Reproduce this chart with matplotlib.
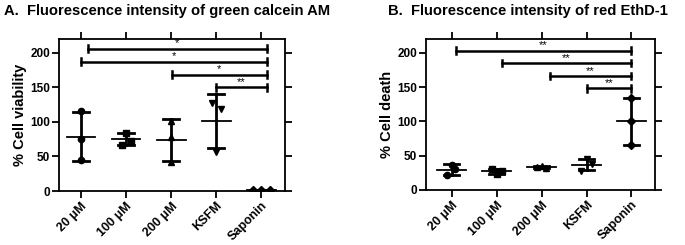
import numpy as np
from matplotlib import pyplot as plt

plt.rcParams['font.family'] = ['Liberation Sans', 'DejaVu Sans']
plt.rcParams['font.weight'] = 'bold'

groups = ['20 μM', '100 μM', '200 μM', 'KSFM', 'Saponin']
markers = ['o', 's', '^', 'v', 'D']

# panel A: % cell viability (3 replicates per group)
viability = [[116, 75, 45], [84, 67, 73], [102, 78, 42], [128, 118, 56], [1, 1, 1]]
# panel B: % cell death
death = [[37, 30, 22], [30, 27, 24], [35, 34, 32], [45, 38, 28], [134, 100, 66]]

# significance brackets: (from group, to group, height, label)
sig_a = [(0.16, 4.12, 206, '*'), (0.0, 4.12, 187, '*'),
         (2.02, 4.12, 168, '*'), (3.0, 4.12, 150, '**')]
sig_b = [(0.09, 4.0, 203, '**'), (1.11, 4.0, 185, '**'),
         (2.18, 4.0, 166, '**'), (3.02, 4.0, 148, '**')]

# horizontal scatter of the replicates
jit_a = [[0, 0, 0], [0, -0.1, 0.1], [0, 0, 0], [-0.1, 0.1, 0], [-0.19, 0, 0.19]]
jit_b = [[0, 0.08, -0.11], [-0.1, 0.12, 0.0], [0.0, -0.1, 0.1], [0, 0.12, -0.12], [0, 0, 0]]

fig = plt.figure(figsize=[6.85, 2.45], dpi=100)
axA = fig.add_axes([0.0861, 0.2204, 0.330, 0.6206])
axB = fig.add_axes([0.622, 0.2245, 0.334, 0.6165])


def draw(ax, data, jit, sig, ylabel, xlim):
    for i, vals in enumerate(data):
        vals = np.array(vals, dtype=float)
        m = vals.mean()
        sd = vals.std(ddof=1)
        ax.plot(i + np.array(jit[i]), vals, markers[i], color='black',
                ms=4.5, zorder=3)
        ax.plot([i - 0.32, i + 0.32], [m, m], color='black', lw=1.3)
        ax.plot([i, i], [m - sd, m + sd], color='black', lw=2)
        ax.plot([i - 0.17, i + 0.17], [m - sd, m - sd], color='black', lw=2)
        ax.plot([i - 0.17, i + 0.17], [m + sd, m + sd], color='black', lw=2)
    for x0, x1, y, lab in sig:
        ax.plot([x0, x1], [y, y], color='black', lw=1.8)
        ax.plot([x0, x0], [y - 5, y + 5], color='black', lw=1.8)
        ax.plot([x1, x1], [y - 5, y + 5], color='black', lw=1.8)
        ax.text((x0 + x1) / 2, y + 0.5, lab, ha='center', va='bottom',
                fontsize=8, fontweight='normal')
    ax.set_xlim(*xlim)
    ax.set_ylim(0, 220)
    ax.set_yticks([0, 50, 100, 150, 200])
    ax.set_xticks(range(len(groups)))
    ax.set_xticklabels(groups, rotation=45, ha='right', rotation_mode='anchor',
                       fontsize=9, fontweight='bold')
    for lab in ax.get_yticklabels():
        lab.set_fontsize(8.5)
        lab.set_fontweight('bold')
    ax.tick_params(axis='both', direction='out', length=5, width=1.3, pad=1.5)
    ax.tick_params(top=True, right=True, labeltop=False, labelright=False)
    for s in ax.spines.values():
        s.set_linewidth(1.3)
    ax.set_ylabel(ylabel, fontsize=10.5, fontweight='bold', labelpad=2)


draw(axA, viability, jit_a, sig_a, '% Cell viability', (-0.49, 4.53))
draw(axB, death, jit_b, sig_b, '% Cell death', (-0.57, 4.52))

fig.text(0.006, 0.955, 'A.  Fluorescence intensity of green calcein AM',
         fontsize=10.6, fontweight='bold', va='center')
fig.text(0.566, 0.955, 'B.  Fluorescence intensity of red EthD-1',
         fontsize=10.6, fontweight='bold', va='center')

plt.savefig('out.png', dpi=100)
